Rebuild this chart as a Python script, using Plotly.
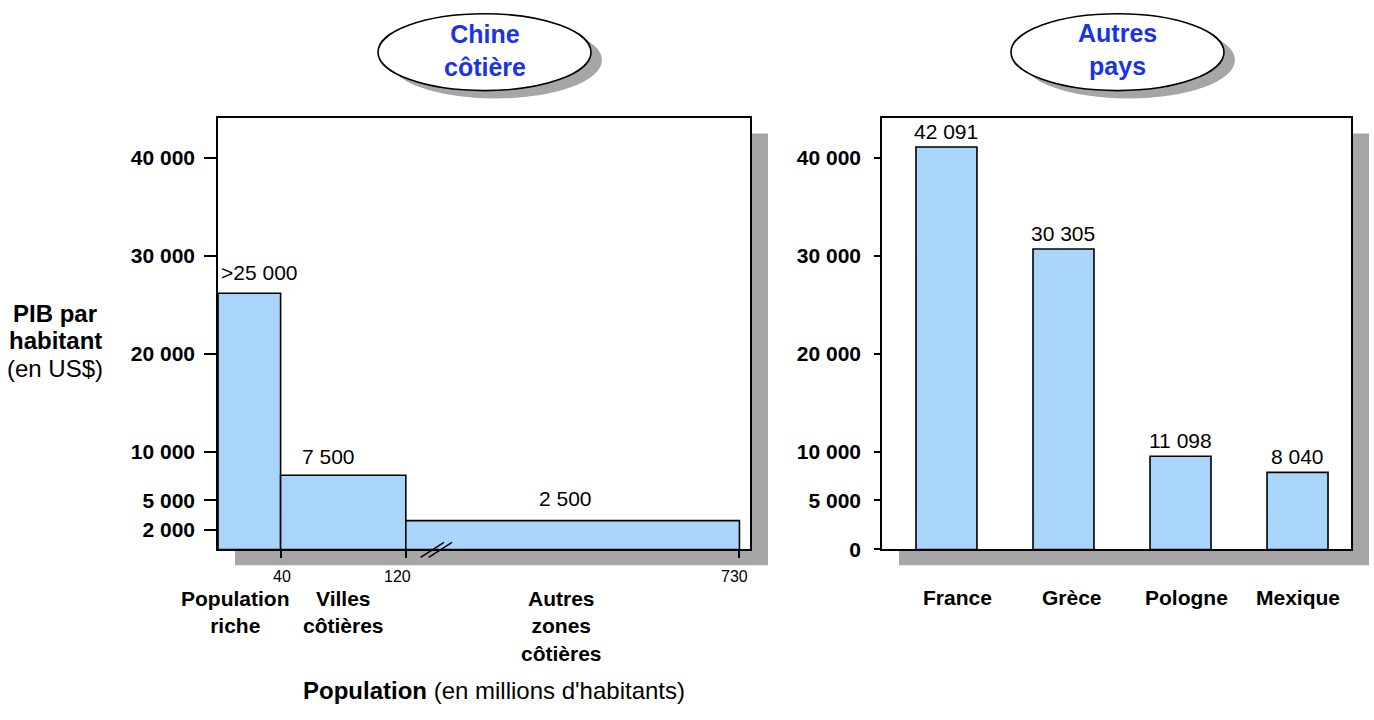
import plotly.graph_objects as go

# ---------------- data ----------------
china_groups = ["Population<br>riche", "Villes<br>côtières", "Autres<br>zones<br>côtières"]
china_edges = [0, 40, 120, 730]            # population, millions (cumulative)
china_heights = [26150, 7570, 2940]        # bar heights as drawn
china_labels = [">25 000", "7 500", "2 500"]
china_xticks = [40, 120, 730]

countries = ["France", "Grèce", "Pologne", "Mexique"]
country_heights = [41080, 30680, 9520, 7870]
country_labels = ["42 091", "30 305", "11 098", "8 040"]

left_yticks = [2000, 5000, 10000, 20000, 30000, 40000]
right_yticks = [0, 5000, 10000, 20000, 30000, 40000]

# ---------------- style / geometry ----------------
W, H = 1374, 720
FONT = "Liberation Sans, Arial, Helvetica, sans-serif"
BLUE = "#a9d4fc"
SHADOW = "#a6a6a6"
TITLE_BLUE = "#1a33e6"

def px(x):
    return x / W

def py(y):
    return 1 - y / H

# broken x axis for the left panel: values beyond BREAK are compressed
BREAK = 120
K = 0.3495
def disp(v):
    return v if v <= BREAK else BREAK + (v - BREAK) * K

L_X0, L_X1 = 218, 750
R_X0, R_X1 = 882, 1351
Y_TOP, Y_BOT = 119.5, 558
SCALE_L = 1.565
YMAX = 44080

fmt = lambda v: f"{v:,}".replace(",", " ")

d_edges = [disp(e) for e in china_edges]
d_centers = [(a + b) / 2 for a, b in zip(d_edges[:-1], d_edges[1:])]
d_widths = [b - a for a, b in zip(d_edges[:-1], d_edges[1:])]

fig = go.Figure()
fig.add_trace(go.Bar(
    x=d_centers, y=china_heights, width=d_widths,
    marker=dict(color=BLUE, line=dict(color="black", width=1.6)),
    xaxis="x", yaxis="y", hoverinfo="skip"))
fig.add_trace(go.Bar(
    x=countries, y=country_heights, width=0.521,
    marker=dict(color=BLUE, line=dict(color="black", width=1.6)),
    xaxis="x2", yaxis="y2", hoverinfo="skip"))

shapes = []
# panel shadows + white panels
for x0, x1 in [(L_X0, L_X1), (R_X0, R_X1)]:
    shapes.append(dict(type="rect", xref="paper", yref="paper", layer="below",
                       x0=px(x0 + 17), x1=px(x1 + 18), y0=py(Y_BOT + 16), y1=py(Y_TOP + 16),
                       fillcolor=SHADOW, line=dict(width=0)))
    shapes.append(dict(type="rect", xref="paper", yref="paper", layer="below",
                       x0=px(x0), x1=px(x1), y0=py(Y_BOT), y1=py(Y_TOP),
                       fillcolor="white", line=dict(width=0)))
# title ellipses
for cx in [484.5, 1117.5]:
    shapes.append(dict(type="circle", xref="paper", yref="paper",
                       x0=px(cx - 106.5 + 11), x1=px(cx + 106.5 + 11), y0=py(92 + 8), y1=py(14 + 8),
                       fillcolor=SHADOW, line=dict(width=0)))
    shapes.append(dict(type="circle", xref="paper", yref="paper",
                       x0=px(cx - 106.5), x1=px(cx + 106.5), y0=py(92), y1=py(14),
                       fillcolor="white", line=dict(color="black", width=1.6)))
# axis break marks
for off in [0, 8]:
    shapes.append(dict(type="line", xref="x", yref="paper",
                       x0=disp(BREAK) + (14.8 + off) / SCALE_L, x1=disp(BREAK) + (38.2 + off) / SCALE_L,
                       y0=py(566), y1=py(550.7), line=dict(color="black", width=1.5)))

ann = []

def note(text, x, y, size, xref="paper", yref="paper", xa="center", ya="middle",
         color="black", xs=0, ys=0):
    ann.append(dict(text=text, x=x, y=y, xref=xref, yref=yref, showarrow=False,
                    xanchor=xa, yanchor=ya, xshift=xs, yshift=ys,
                    font=dict(size=size, color=color, family=FONT)))

# ellipse titles
note("<b>Chine<br>côtière</b>", px(484.5), py(51), 25, color=TITLE_BLUE)
note("<b>Autres<br>pays</b>", px(1117.5), py(50), 25, color=TITLE_BLUE)
# y title
for t, yy in [("<b>PIB par</b>", 318), ("<b>habitant</b>", 346), ("(en US$)", 374)]:
    note(t, px(55), py(yy), 24)
# x title
note("<b>Population</b> (en millions d'habitants)", px(494), py(701), 24)
# left value labels
for xc, h, t, xs, ys in zip(d_centers, china_heights, china_labels, [10.5, -14.5, -7], [7, 5, 9]):
    note(t, xc, h, 21, xref="x", yref="y", ya="bottom", xs=xs, ys=ys)
# right value labels
for c, h, t in zip(countries, country_heights, country_labels):
    note(t, c, h, 21, xref="x2", yref="y2", ya="bottom", ys=2)
# left x tick numbers
for v, xs in zip(china_xticks, [1.5, -8.5, -4.5]):
    note(str(v), disp(v), py(585), 16, xref="x", xs=xs)
# left category labels
for xc, t, xs in zip(d_centers, china_groups, [-14, 0, -11.6]):
    note(f"<b>{t}</b>", xc, py(594), 21, xref="x", ya="top", xs=xs)
# right category labels
for c, xs in zip(countries, [11, 9, 6, 0]):
    note(f"<b>{c}</b>", c, py(607), 21, xref="x2", xs=xs)

axis_common = dict(showgrid=False, zeroline=False, showline=True, linecolor="black",
                   linewidth=1.6, mirror=True, fixedrange=True)

fig.update_layout(
    width=W, height=H, margin=dict(l=0, r=0, t=0, b=0),
    paper_bgcolor="white", plot_bgcolor="rgba(0,0,0,0)",
    showlegend=False, shapes=shapes, annotations=ann,
    font=dict(family=FONT, color="black"),
    xaxis=dict(domain=[px(L_X0), px(L_X1)], range=[0, (L_X1 - L_X0) / SCALE_L], anchor="y",
               tickmode="array", tickvals=[disp(v) for v in china_xticks], ticks="outside",
               ticklen=7, tickwidth=1.5, tickcolor="black", showticklabels=False, **axis_common),
    yaxis=dict(domain=[py(Y_BOT), py(Y_TOP)], range=[0, YMAX], anchor="x",
               tickmode="array", tickvals=left_yticks, ticktext=[fmt(v) for v in left_yticks],
               ticks="outside", ticklen=12, tickwidth=1.5, tickcolor="black",
               ticklabelstandoff=5,
               tickfont=dict(size=21, family=FONT, color="black", weight="bold"), **axis_common),
    xaxis2=dict(domain=[px(R_X0), px(R_X1)], range=[-0.551, 3.457], anchor="y2",
                type="category", categoryorder="array", categoryarray=countries,
                ticks="", showticklabels=False, **axis_common),
    yaxis2=dict(domain=[py(Y_BOT), py(Y_TOP)], range=[0, YMAX], anchor="x2",
                tickmode="array", tickvals=right_yticks, ticktext=[fmt(v) for v in right_yticks],
                ticks="outside", ticklen=6, tickwidth=1.5, tickcolor="black",
                ticklabelstandoff=9,
                tickfont=dict(size=21, family=FONT, color="black", weight="bold"), **axis_common),
)

fig.write_html("out.html")
